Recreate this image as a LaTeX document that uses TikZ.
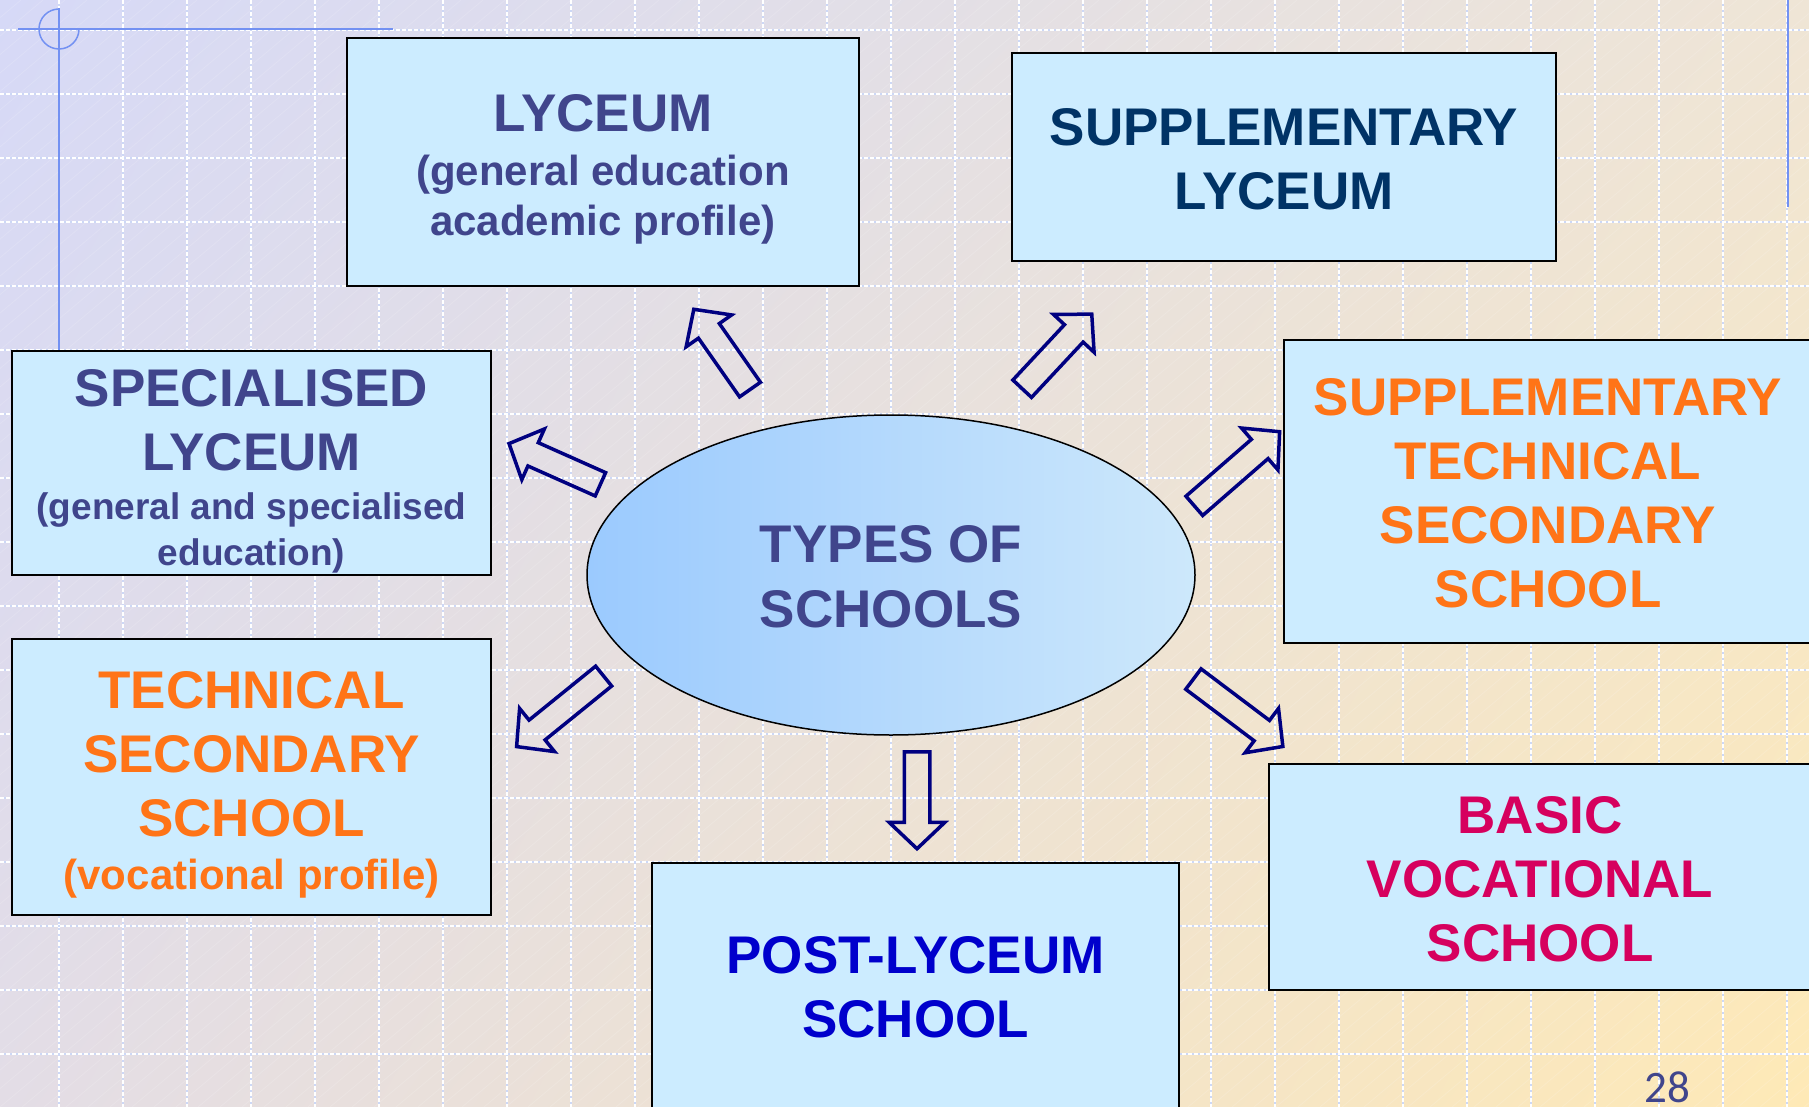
\documentclass[tikz,border=0pt]{standalone}
\usepackage{fontspec}
\setmainfont{Liberation Sans}
\newfontfamily\pagenumfont{Carlito}
\usetikzlibrary{shapes.geometric, shapes.arrows, shadings, positioning}

\definecolor{boxfill}{HTML}{CCECFF}
\definecolor{slate}{HTML}{40458C}
\definecolor{deepnavy}{HTML}{003366}
\definecolor{techorange}{HTML}{FF7417}
\definecolor{postblue}{HTML}{0000CC}
\definecolor{basicred}{HTML}{D6005E}
\definecolor{arrownavy}{HTML}{000080}
\definecolor{ruleblue}{HTML}{7391F2}
\definecolor{gridblue}{HTML}{CDD8F6}
\definecolor{bgTL}{HTML}{D6D9F7}
\definecolor{bgTR}{HTML}{EFE5D6}
\definecolor{bgBL}{HTML}{E3DDE6}
\definecolor{bgBR}{HTML}{FEE9B6}
\definecolor{ellL}{HTML}{9BCAFE}
\definecolor{ellR}{HTML}{CDE8FB}

\newcommand\subtext[1]{{\fontsize{42}{50}\selectfont #1}}
\newcommand\smallsub[1]{{\fontsize{37}{44}\selectfont #1}}

\begin{document}
\begin{tikzpicture}[x=1pt, y=-1pt,
  box/.style={draw=black, line width=2, fill=boxfill, inner sep=0pt},
  boxtext/.style={align=center, inner sep=0pt, font=\fontsize{53}{64}\selectfont\bfseries},
  blockarrow/.style={single arrow, draw=arrownavy, line width=3.5, inner sep=11,
    single arrow head extend=15, single arrow tip angle=93, minimum height=#1,
    anchor=tail},
  gridbase/.style={gridblue, line width=2},
  griddash/.style={white, line width=2, dash pattern=on 4pt off 2pt},
  rule/.style={ruleblue, line width=1.5},
  hatch/.style={white, line width=0.8, opacity=0.15}]

  \useasboundingbox (0,0) rectangle (1809,1107);
  \clip (0,0) rectangle (1809,1107);

  % background
  \shade[upper left=bgTL, upper right=bgTR, lower left=bgBL, lower right=bgBR]
    (0,0) rectangle (1809,1107);
  \foreach \hx in {-1320,-1298,...,1809}
    \draw[hatch] (\hx,1107) -- ++(1319,-1107);
  \foreach \gx in {59,123,...,1787} {
    \draw[gridbase] (\gx,0) -- (\gx,1107);
    \draw[griddash] (\gx,0) -- (\gx,1107);
  }
  \foreach \gy in {30,94,...,1054} {
    \draw[gridbase] (0,\gy) -- (1809,\gy);
    \draw[griddash] (0,\gy) -- (1809,\gy);
  }
  \draw[rule] (18,29) -- (393,29);
  \draw[rule] (59,8) -- (59,351);
  \draw[rule] (79,29) arc[start angle=0, end angle=270, radius=20];
  \draw[rule] (1788,0) -- (1788,207);

  % school boxes
  \node[box, minimum width=512, minimum height=248,
    label={[boxtext, text=slate, yshift=-7]center:{LYCEUM\\[-10pt]\subtext{(general education}\\[-14pt]\subtext{academic profile)}}}]
    (lyceum) at (603,162) {};
  \node[box, minimum width=544, minimum height=208,
    label={[boxtext, text=deepnavy, yshift=-2]center:{SUPPLEMENTARY\\LYCEUM}}]
    (supplyceum) at (1284,157) {};
  \node[box, minimum width=479, minimum height=224,
    label={[boxtext, text=slate, yshift=-8]center:{SPECIALISED\\LYCEUM\\[-15pt]\smallsub{(general and specialised}\\[-18pt]\smallsub{education)}}}]
    (special) at (251.5,463) {};
  \node[box, minimum width=528, minimum height=303,
    label={[boxtext, text=techorange, yshift=-2]center:{SUPPLEMENTARY\\TECHNICAL\\SECONDARY\\SCHOOL}}]
    (supptech) at (1548,491.5) {};
  \node[box, minimum width=479, minimum height=276,
    label={[boxtext, text=techorange, yshift=-8]center:{TECHNICAL\\SECONDARY\\SCHOOL\\[-11pt]\subtext{(vocational profile)}}}]
    (technical) at (251.5,777) {};
  \node[box, minimum width=527, minimum height=249,
    label={[boxtext, text=postblue]center:{POST-LYCEUM\\SCHOOL}}]
    (postlyceum) at (915.5,987.5) {};
  \node[box, minimum width=542, minimum height=226,
    label={[boxtext, text=basicred, yshift=-2]center:{BASIC\\VOCATIONAL\\SCHOOL}}]
    (basic) at (1540,877) {};

  % centre
  \node[ellipse, draw=black, line width=1.5, minimum width=608, minimum height=320,
    left color=ellL, right color=ellR,
    label={[boxtext, font=\fontsize{53}{65}\selectfont\bfseries, text=slate, yshift=-2]center:{TYPES OF\\SCHOOLS}}]
    (types) at (891,575) {};

  % block arrows, placed by their tails
  \node[blockarrow=98, rotate=125] (arrlyceum) at (751,391) {};
  \node[blockarrow=102, rotate=47] (arrsupplyceum) at (1021,390) {};
  \node[blockarrow=100, rotate=156] (arrspecial) at (602,485) {};
  \node[blockarrow=113, rotate=41] (arrsupptech) at (1193,507) {};
  \node[blockarrow=112, rotate=219] (arrtechnical) at (605,675) {};
  \node[blockarrow=97, rotate=270] (arrpost) at (917,750) {};
  \node[blockarrow=112, rotate=-37] (arrbasic) at (1192,678) {};

  \node[text=slate, inner sep=0pt, font=\pagenumfont\fontsize{45}{54}\selectfont, anchor=base] (pagenum)
    at (1667,1102) {28};
\end{tikzpicture}
\end{document}
